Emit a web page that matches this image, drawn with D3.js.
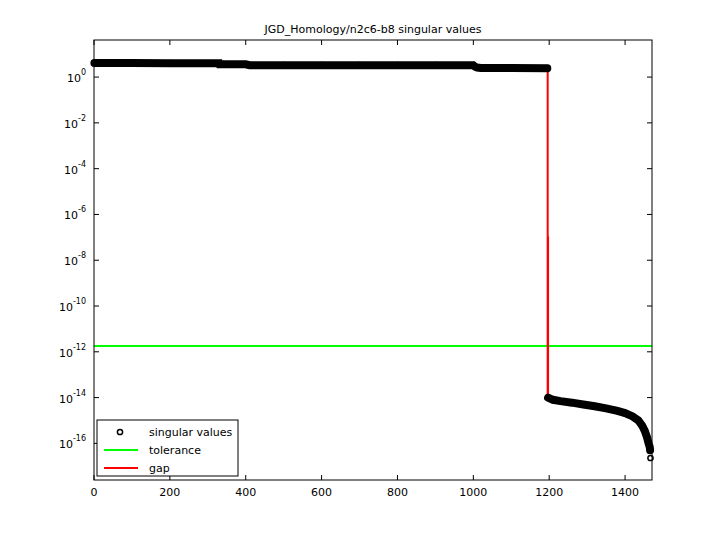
<!DOCTYPE html><html><head><script src="https://cdn.jsdelivr.net/npm/d3@7"></script>
<style>body{margin:0;background:#fff}text{font-family:"DejaVu Sans",sans-serif}</style></head><body>
<svg id="c" width="720" height="540"></svg>
<script>
const title="JGD_Homology/n2c6-b8 singular values";
// singular values: index, value
const svIndex=[1,100,200,330,331,400,410,500,600,700,800,900,1000,1005,1010,1020,1100,1195,
 1197,1210,1230,1260,1290,1320,1350,1380,1400,1420,1435,1445,1452,1458,1462,1465,1466,1467];
const svValue=[4.1,4.1,4.05,4.0,3.6,3.6,3.3,3.3,3.3,3.3,3.3,3.3,3.25,2.8,2.6,2.5,2.5,2.45,
 1.0e-14,8e-15,7e-15,6e-15,5e-15,4.2e-15,3.4e-15,2.6e-15,2.1e-15,1.5e-15,1.0e-15,6e-16,3.5e-16,1.8e-16,1.0e-16,7e-17,5e-17,2.3e-17];
const tolerance=1.8e-12;
const gapX=[1196,1197];const gapTop=[2.45,1.1e-7];const gapBottom=[1.0e-14,1.0e-14];
const xTicks=[0,200,400,600,800,1000,1200,1400];
const yTicks=[0,-2,-4,-6,-8,-10,-12,-14,-16];
const svg=d3.select("#c");
const L=94,R=652,T=40,B=480;
const x=d3.scaleLinear().domain([0,1471]).range([L,R]);
const y=d3.scaleLog().domain([Math.pow(10,-17.6),Math.pow(10,1.62)]).range([B,T]);
svg.append("text").attr("x",(L+R)/2).attr("y",33).attr("text-anchor","middle").attr("font-size",11).text(title);
const g=svg.append("g");
xTicks.forEach(t=>{g.append("line").attr("x1",x(t)).attr("x2",x(t)).attr("y1",B).attr("y2",B-5).attr("stroke","#000");
 g.append("line").attr("x1",x(t)).attr("x2",x(t)).attr("y1",T).attr("y2",T+5).attr("stroke","#000");
 g.append("text").attr("x",x(t)).attr("y",B+16).attr("text-anchor","middle").attr("font-size",11).text(t);});
yTicks.forEach(e=>{const yy=y(Math.pow(10,e));
 g.append("line").attr("x1",L).attr("x2",L+5).attr("y1",yy).attr("y2",yy).attr("stroke","#000");
 g.append("line").attr("x1",R).attr("x2",R-5).attr("y1",yy).attr("y2",yy).attr("stroke","#000");
 const t=g.append("text").attr("x",L-8).attr("y",yy+5).attr("text-anchor","end").attr("font-size",11);
 t.append("tspan").text("10");t.append("tspan").attr("dy",-7).attr("font-size",8).text(e);});
g.append("line").attr("x1",L).attr("x2",R).attr("y1",y(tolerance)).attr("y2",y(tolerance)).attr("stroke","#00ff00").attr("stroke-width",2);
gapX.forEach((gx,i)=>g.append("line").attr("x1",x(gx)).attr("x2",x(gx)).attr("y1",y(gapTop[i])).attr("y2",y(gapBottom[i])).attr("stroke","#ff0000").attr("stroke-width",2));
const pts=svIndex.map((d,i)=>[d,svValue[i]]);
const seg1=pts.filter(p=>p[0]<1196), seg2=pts.filter(p=>p[0]>1196&&p[0]<1467);
const line=d3.line().x(p=>x(p[0])).y(p=>y(p[1]));
[seg1,seg2].forEach(s=>g.append("path").attr("d",line(s)).attr("fill","none").attr("stroke","#000").attr("stroke-width",8).attr("stroke-linecap","round"));
pts.forEach(p=>g.append("circle").attr("cx",x(p[0])).attr("cy",y(p[1])).attr("r",2.6).attr("fill","none").attr("stroke","#000").attr("stroke-width",1.5));
g.append("rect").attr("x",L).attr("y",T).attr("width",R-L).attr("height",B-T).attr("fill","none").attr("stroke","#000");
const lg=svg.append("g");
lg.append("rect").attr("x",97).attr("y",420).attr("width",141).attr("height",56).attr("fill","#fff").attr("stroke","#000");
lg.append("circle").attr("cx",120).attr("cy",432).attr("r",2.6).attr("fill","none").attr("stroke","#000").attr("stroke-width",1.5);
lg.append("line").attr("x1",104).attr("x2",138).attr("y1",450).attr("y2",450).attr("stroke","#00ff00").attr("stroke-width",2);
lg.append("line").attr("x1",104).attr("x2",138).attr("y1",468).attr("y2",468).attr("stroke","#ff0000").attr("stroke-width",2);
[["singular values",436],["tolerance",454],["gap",472]].forEach(d=>lg.append("text").attr("x",149).attr("y",d[1]).attr("font-size",11).text(d[0]));
</script></body></html>
